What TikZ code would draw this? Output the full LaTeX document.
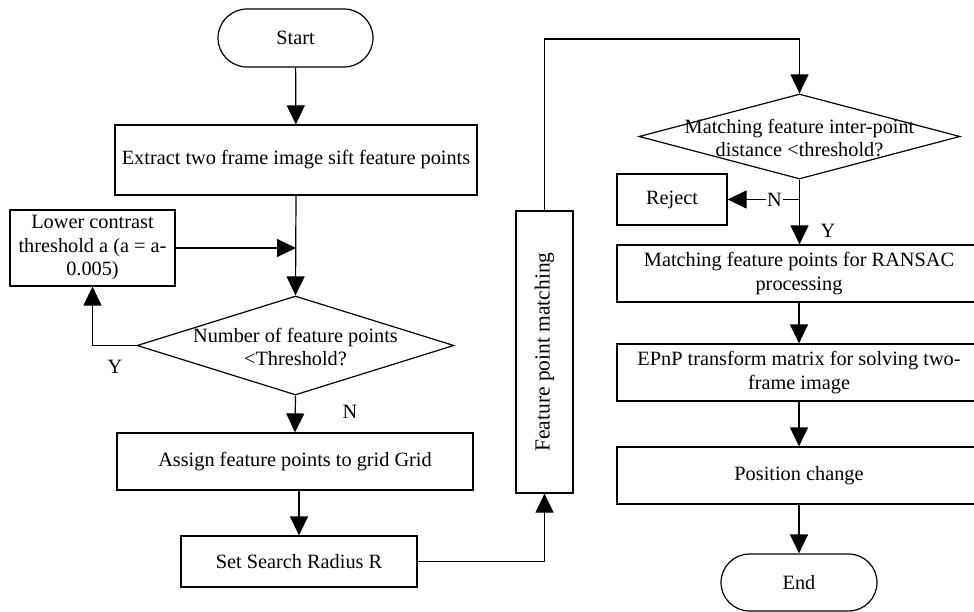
\documentclass[tikz,border=0pt]{standalone}
\usepackage{fontspec}
\setmainfont{Liberation Serif}
\usetikzlibrary{shapes.geometric,shapes.misc,arrows.meta}

\tikzset{
  every node/.style={font=\fontsize{20.3}{23.5}\selectfont},
  flowbox/.style={draw, line width=1.2pt, rectangle, inner sep=2pt, align=center},
  term/.style={draw, line width=1.2pt, rounded rectangle, inner sep=2pt},
  decision/.style={draw, line width=1.2pt, diamond, inner sep=0pt},
  flowline/.style={line width=1.2pt},
  arr/.style={line width=1.2pt, -{Triangle[length=19pt,width=18pt]}},
  lbl/.style={inner sep=1pt},
}

\begin{document}
\begin{tikzpicture}[x=1pt,y=-1pt]
  \useasboundingbox (0,0) rectangle (974,612);
  \clip (0,0) rectangle (974,612);
  \fill[white] (0,0) rectangle (974,612);

  % left column
  \node[term, minimum width=159pt, minimum height=58pt] (start) at (295.5,38) {Start};
  \node[flowbox, minimum width=362pt, minimum height=70pt] (extract) at (296,160)
    {Extract two frame image sift feature points};
  \node[flowbox, minimum width=165pt, minimum height=76pt] (lower) at (92.5,248)
    {Lower contrast\\threshold a (a = a-\\0.005)};
  \node[decision, minimum width=317pt, minimum height=99pt] (dec1) at (295.5,345.5) {};
  \node[align=center] (dec1txt) at (295.5,347) {Number of feature points\\<Threshold?};
  \node[flowbox, minimum width=356pt, minimum height=57pt] (assign) at (295,461.5)
    {Assign feature points to grid Grid};
  \node[flowbox, minimum width=236pt, minimum height=51pt] (setr) at (299,561.5)
    {Set Search Radius R};

  % middle column
  \node[flowbox, minimum width=57pt, minimum height=282pt] (fpm) at (544.5,352) {};
  \node[rotate=90, font=\fontsize{21.5}{24}\selectfont] (fpmtxt) at (fpm.center) {Feature point matching};

  % right column
  \node[decision, minimum width=321pt, minimum height=85pt] (dec2) at (799.5,136.5) {};
  \node[align=center] (dec2txt) at (799.5,138) {Matching feature inter-point\\distance <threshold?};
  \node[flowbox, minimum width=110pt, minimum height=51pt] (reject) at (672,199.5) {Reject};
  \node[flowbox, minimum width=364pt, minimum height=57pt] (ransac) at (799,273.5)
    {Matching feature points for RANSAC\\processing};
  \node[flowbox, minimum width=364pt, minimum height=57pt] (epnp) at (799,372.5)
    {EPnP transform matrix for solving two-\\frame image};
  \node[flowbox, minimum width=364pt, minimum height=57pt] (pos) at (799,475.5)
    {Position change};
  \node[term, minimum width=160pt, minimum height=57pt] (end) at (799,582.5) {End};

  % connectors, left column
  \draw[arr] (start) -- (extract);
  \draw[arr] (extract.south) -- (dec1.north);
  \draw[arr] (lower.east) -- (lower.east -| extract.south);
  \draw[arr] (dec1.west) -| (lower.south);
  \node[lbl] (ylab1) at (115,367) {Y};
  \draw[arr] (dec1.south) -- (assign.north);
  \node[lbl] (nlab1) at (350,412) {N};
  \draw[arr] (setr.north |- assign.south) -- (setr.north);
  \draw[arr] (setr.east) -| (fpm.south);

  % connectors, right column
  \coordinate (top) at (799.5,39);
  \draw[arr] (fpm.north) |- (top) -- (dec2.north);
  \coordinate (branch) at (dec2.south |- reject.east);
  \draw[flowline] (dec2.south) -- (branch);
  \draw[arr] (branch) -- node[lbl, fill=white, pos=0.35] (nlab2) {N} (reject.east);
  \draw[arr] (branch) -- (branch |- ransac.north);
  \node[lbl] (ylab2) at (828,231) {Y};
  \draw[arr] (ransac.south -| end.north) -- (epnp.north -| end.north);
  \draw[arr] (epnp.south -| end.north) -- (pos.north -| end.north);
  \draw[arr] (pos.south -| end.north) -- (end.north);
\end{tikzpicture}
\end{document}
